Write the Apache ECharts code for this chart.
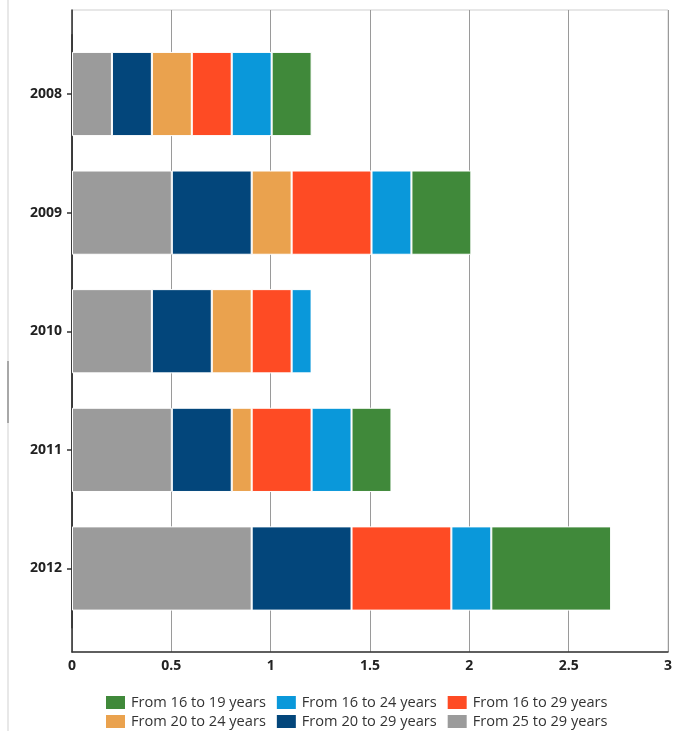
<!DOCTYPE html>
<html>
<head>
<meta charset="utf-8">
<script src="https://cdn.jsdelivr.net/npm/echarts@6/dist/echarts.min.js"></script>
<style>
html,body{margin:0;padding:0;background:#fff;}
#c{width:675px;height:731px;}
</style>
</head>
<body>
<div id="c"></div>
<script>
var years = ['2008', '2009', '2010', '2011', '2012'];
var xTicks = [0, 0.5, 1, 1.5, 2, 2.5, 3];
var s25to29 = [0.2, 0.5, 0.4, 0.5, 0.9];
var s20to29 = [0.2, 0.4, 0.3, 0.3, 0.5];
var s20to24 = [0.2, 0.2, 0.2, 0.1, 0];
var s16to29 = [0.2, 0.4, 0.2, 0.3, 0.5];
var s16to24 = [0.2, 0.2, 0.1, 0.2, 0.2];
var s16to19 = [0.2, 0.3, 0, 0.2, 0.6];
var names = ['From 25 to 29 years', 'From 20 to 29 years', 'From 20 to 24 years',
             'From 16 to 29 years', 'From 16 to 24 years', 'From 16 to 19 years'];
var colors = ['#9b9b9b', '#03467b', '#eaa24e', '#fe4b24', '#0a98da', '#40893a'];
var seriesData = [s25to29, s20to29, s20to24, s16to29, s16to24, s16to19];
var legendRow1 = ['From 16 to 19 years', 'From 16 to 24 years', 'From 16 to 29 years'];
var legendRow2 = ['From 20 to 24 years', 'From 20 to 29 years', 'From 25 to 29 years'];

var chart = echarts.init(document.getElementById('c'), null, {renderer: 'canvas'});
var labelFont = {fontFamily: 'Open Sans', fontWeight: 'bold', fontSize: 14, color: '#222'};
var legendText = {fontFamily: 'Open Sans', fontSize: 14.6, color: '#333'};

var series = seriesData.map(function (d, i) {
  return {
    name: names[i], type: 'bar', stack: 'total',
    xAxisIndex: 1, yAxisIndex: 1,
    barWidth: '71%',
    itemStyle: {color: colors[i], borderColor: '#fff', borderWidth: 1},
    data: d
  };
});

var option = {
  animation: false,
  backgroundColor: '#fff',
  color: colors,
  graphic: [
    {type: 'rect', left: 7, top: 0, shape: {width: 2, height: 731}, style: {fill: '#e8e8e8'}},
    {type: 'rect', left: 7, top: 361, shape: {width: 2, height: 62}, style: {fill: '#a8a8a8'}}
  ],
  grid: [
    {left: 72, right: 4, top: 10, bottom: 79, show: true, borderColor: '#cfcfcf', borderWidth: 1, backgroundColor: 'transparent'},
    {left: 72, right: 4, top: 34.7, bottom: 103.2}
  ],
  xAxis: [
    {gridIndex: 0, type: 'value', min: xTicks[0], max: xTicks[xTicks.length - 1], interval: xTicks[1] - xTicks[0],
     axisLine: {show: true, lineStyle: {color: '#333', width: 1.5}},
     axisTick: {show: false},
     axisLabel: Object.assign({margin: 7}, labelFont),
     splitLine: {show: true, lineStyle: {color: '#9a9a9a', width: 1}}},
    {gridIndex: 1, type: 'value', min: xTicks[0], max: xTicks[xTicks.length - 1], show: false}
  ],
  yAxis: [
    {gridIndex: 0, type: 'value', min: 0, max: 1,
     axisLine: {show: true, lineStyle: {color: '#333', width: 1.5}},
     axisTick: {show: false}, axisLabel: {show: false}, splitLine: {show: false}},
    {gridIndex: 1, type: 'category', data: years, inverse: true,
     axisLine: {show: true, lineStyle: {color: '#333', width: 1.5}},
     axisTick: {show: true, alignWithLabel: true, length: 5, lineStyle: {color: '#333', width: 1.5}},
     axisLabel: Object.assign({margin: 10}, labelFont),
     splitLine: {show: false}}
  ],
  legend: [
    {data: legendRow1, left: 104, top: 694, padding: 0, itemWidth: 21, itemHeight: 15, itemGap: 9,
     icon: 'rect', textStyle: legendText, selectedMode: false},
    {data: legendRow2, left: 104, top: 713, padding: 0, itemWidth: 21, itemHeight: 15, itemGap: 9,
     icon: 'rect', textStyle: legendText, selectedMode: false}
  ],
  series: series
};
chart.setOption(option);
</script>
</body>
</html>
